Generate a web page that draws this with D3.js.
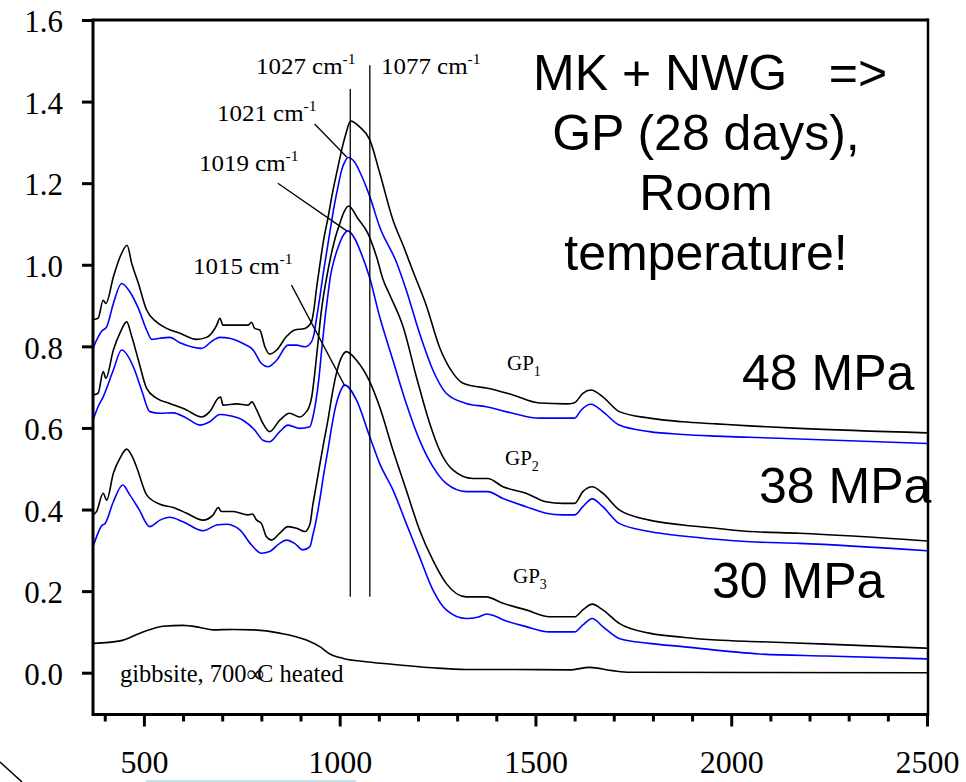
<!DOCTYPE html>
<html><head><meta charset="utf-8">
<script src="https://cdn.jsdelivr.net/npm/d3@7"></script>
<style>
html,body{margin:0;padding:0;background:#fff;}
svg{display:block;}
</style></head><body>
<svg id="chart" width="966" height="782"></svg>
<script>
// ---- Data: [wavenumber (cm-1), absorbance] ----
const gp1Black = [[370,.866],[383,.869],[396,.913],[403,.905],[422,.970],[439,1.019],[457,1.048],[469,1.003],[486,.954],[507,.889],[532,.860],[558,.844],[592,.832],[634,.817],[660,.822],[686,.852],[694,.869],[702,.852],[737,.852],[766,.852],[775,.859],[783,.844],[796,.840],[809,.799],[821,.781],[839,.791],[864,.824],[885,.840],[911,.844],[928,.860],[934,.889],[941,.943],[949,.997],[959,1.061],[970,1.114],[982,1.178],[995,1.237],[1005,1.281],[1015,1.318],[1028,1.352],[1051,1.338],[1077,1.306],[1102,1.226],[1135,1.113],[1166,1.038],[1186,.987],[1221,.901],[1255,.798],[1289,.735],[1314,.710],[1340,.703],[1374,.698],[1442,.681],[1510,.661],[1578,.659],[1600,.662],[1621,.685],[1642,.693],[1672,.676],[1714,.640],[1791,.624],[1876,.615],[1961,.610],[2046,.605],[2174,.599],[2500,.588]];
const gp1Blue = [[370,.795],[379,.815],[392,.837],[405,.848],[422,.905],[443,.954],[464,.934],[486,.893],[507,.840],[520,.817],[541,.820],[566,.822],[592,.809],[626,.798],[647,.795],[677,.815],[694,.822],[719,.820],[753,.807],[779,.791],[800,.758],[817,.750],[839,.766],[868,.803],[890,.803],[911,.799],[928,.811],[934,.828],[941,.869],[949,.918],[957,.972],[965,1.021],[975,1.080],[985,1.139],[995,1.188],[1005,1.232],[1013,1.252],[1021,1.263],[1038,1.252],[1055,1.220],[1077,1.167],[1102,1.093],[1145,1.006],[1170,.938],[1204,.832],[1238,.742],[1272,.685],[1323,.660],[1374,.652],[1442,.636],[1510,.624],[1578,.624],[1600,.624],[1617,.644],[1642,.658],[1672,.640],[1714,.607],[1791,.591],[1876,.584],[1961,.580],[2046,.577],[2174,.573],[2500,.562]];
const gp2Black = [[370,.681],[383,.685],[396,.738],[403,.722],[422,.791],[439,.833],[456,.860],[469,.824],[486,.766],[507,.697],[532,.673],[566,.660],[609,.644],[647,.627],[668,.640],[690,.673],[696,.676],[702,.656],[737,.659],[766,.656],[776,.664],[788,.644],[804,.611],[821,.591],[847,.619],[872,.636],[898,.627],[915,.640],[921,.649],[929,.678],[936,.731],[944,.803],[952,.877],[959,.926],[967,.970],[977,1.019],[987,1.060],[1000,1.100],[1010,1.127],[1023,1.144],[1046,1.114],[1072,1.077],[1094,1.020],[1111,.963],[1128,.926],[1162,.848],[1196,.725],[1230,.611],[1255,.546],[1289,.497],[1340,.476],[1378,.476],[1417,.456],[1476,.440],[1527,.419],[1570,.415],[1600,.415],[1621,.444],[1645,.456],[1672,.440],[1714,.399],[1791,.374],[1876,.362],[1961,.354],[2046,.346],[2174,.342],[2500,.323]];
const gp2Blue = [[370,.619],[383,.652],[396,.676],[422,.742],[443,.791],[473,.750],[494,.693],[515,.640],[541,.636],[575,.637],[609,.624],[643,.607],[668,.615],[694,.633],[719,.630],[753,.619],[783,.595],[804,.570],[821,.566],[847,.591],[868,.607],[898,.599],[924,.603],[931,.624],[939,.664],[947,.722],[954,.791],[962,.864],[970,.926],[977,.975],[987,1.016],[998,1.048],[1008,1.070],[1021,1.083],[1038,1.065],[1055,1.028],[1077,.967],[1102,.873],[1136,.766],[1170,.660],[1204,.570],[1238,.505],[1272,.464],[1323,.444],[1378,.444],[1417,.427],[1476,.407],[1527,.391],[1570,.387],[1600,.387],[1621,.407],[1645,.426],[1672,.407],[1714,.366],[1791,.346],[1876,.335],[1961,.327],[2046,.321],[2174,.317],[2500,.299]];
const gp3Black = [[370,.387],[379,.395],[396,.440],[405,.423],[422,.489],[439,.526],[456,.548],[469,.532],[481,.505],[507,.436],[541,.413],[575,.405],[609,.391],[651,.374],[677,.387],[690,.405],[698,.395],[728,.395],[766,.387],[777,.389],[788,.374],[800,.366],[813,.333],[826,.325],[847,.342],[868,.358],[890,.354],[911,.346],[924,.364],[931,.409],[939,.453],[949,.509],[959,.563],[970,.619],[980,.678],[990,.727],[1000,.762],[1008,.779],[1017,.787],[1043,.766],[1077,.713],[1102,.652],[1136,.546],[1170,.448],[1204,.350],[1238,.276],[1272,.219],[1323,.186],[1374,.186],[1417,.170],[1476,.154],[1536,.137],[1600,.137],[1621,.154],[1645,.168],[1672,.154],[1714,.121],[1791,.097],[1876,.087],[1961,.080],[2072,.076],[2242,.070],[2500,.060]];
const gp3Blue = [[370,.309],[379,.333],[392,.360],[401,.366],[422,.419],[446,.460],[464,.436],[486,.403],[515,.358],[541,.374],[566,.381],[600,.370],[651,.348],[686,.362],[711,.364],[745,.350],[775,.313],[800,.293],[821,.297],[847,.317],[864,.325],[885,.317],[906,.301],[924,.309],[931,.335],[939,.369],[949,.423],[959,.485],[970,.546],[980,.605],[990,.654],[1000,.686],[1013,.705],[1043,.668],[1077,.578],[1102,.513],[1136,.448],[1170,.366],[1204,.284],[1238,.203],[1272,.154],[1323,.133],[1352,.136],[1376,.144],[1396,.139],[1417,.130],[1476,.113],[1536,.100],[1600,.100],[1621,.117],[1645,.133],[1672,.113],[1714,.084],[1791,.072],[1876,.064],[2072,.046],[2242,.041],[2500,.034]];
const gibbsite = [[372,.072],[439,.078],[490,.097],[549,.114],[600,.116],[643,.111],[677,.105],[728,.106],[779,.105],[847,.097],[915,.080],[949,.064],[975,.046],[1009,.035],[1068,.027],[1153,.019],[1238,.012],[1323,.008],[1442,.008],[1587,.007],[1638,.013],[1697,.005],[1740,.001],[2500,.000]];

const xMajorTicks = [500, 1000, 1500, 2000, 2500];
const xMinorTicks = [400, 600, 700, 800, 900, 1100, 1200, 1300, 1400, 1600, 1700, 1800, 1900, 2100, 2200, 2300, 2400];
const yTicks = [0.0, 0.2, 0.4, 0.6, 0.8, 1.0, 1.2, 1.4, 1.6];

// reference lines [wavenumber, bottom, top]
const peakLines = [[1027, 0.186, 1.431], [1077, 0.186, 1.489]];
// leader lines [label, from wn, from A, to wn, to A]
const leaders = [["1021", 936, 1.345, 1018, 1.264], ["1019", 842, 1.200, 1018, 1.083], ["1015", 877, 0.950, 1013, 0.703]];

const series = [
  {data: gp1Black, color: "#000000"},
  {data: gp1Blue, color: "#0000ff"},
  {data: gp2Black, color: "#000000"},
  {data: gp2Blue, color: "#0000ff"},
  {data: gp3Black, color: "#000000"},
  {data: gp3Blue, color: "#0000ff"},
  {data: gibbsite, color: "#000000"}
];

const svg = d3.select("#chart");
const L = 93, R = 927, T = 20, B = 713.5;
const x = d3.scaleLinear().domain([370, 2500]).range([L, R]);
const y = d3.scaleLinear().domain([-0.1, 1.6]).range([B, T]);
const serif = "'Liberation Serif','Times New Roman',serif";
const sans = "'Liberation Sans',Arial,sans-serif";

// decorations outside the plot
svg.append("line").attr("x1", 0).attr("y1", 762).attr("x2", 22).attr("y2", 782).attr("stroke", "#000").attr("stroke-width", 1.5);
svg.append("rect").attr("x", 146).attr("y", 780).attr("width", 210).attr("height", 2).attr("fill", "#c5e2e6");

// curves
const line = d3.line().x(d => x(d[0])).y(d => y(d[1])).curve(d3.curveMonotoneX);
svg.append("g").selectAll("path").data(series).join("path")
  .attr("d", d => line(d.data)).attr("fill", "none")
  .attr("stroke", d => d.color).attr("stroke-width", 1.6).attr("stroke-linejoin", "round");

// reference lines
svg.append("g").selectAll("line").data(peakLines).join("line")
  .attr("x1", d => x(d[0])).attr("x2", d => x(d[0]))
  .attr("y1", d => y(d[1])).attr("y2", d => y(d[2]))
  .attr("stroke", "#000").attr("stroke-width", 1.3);
svg.append("g").selectAll("line").data(leaders).join("line")
  .attr("x1", d => x(d[1])).attr("y1", d => y(d[2]))
  .attr("x2", d => x(d[3])).attr("y2", d => y(d[4]))
  .attr("stroke", "#000").attr("stroke-width", 1.3);

// frame
const frame = svg.append("g").attr("stroke", "#000").attr("fill", "none");
frame.append("line").attr("x1", L).attr("x2", R + 1).attr("y1", T).attr("y2", T).attr("stroke-width", 3);
frame.append("line").attr("x1", L).attr("x2", R + 1).attr("y1", B + 1).attr("y2", B + 1).attr("stroke-width", 3);
frame.append("line").attr("x1", L).attr("x2", L).attr("y1", T - 1.5).attr("y2", B + 2.5).attr("stroke-width", 3);
frame.append("line").attr("x1", R + 1).attr("x2", R + 1).attr("y1", T - 1.5).attr("y2", B + 2.5).attr("stroke-width", 2.5);

// axes
const yAxis = svg.append("g").attr("transform", `translate(${L},0)`)
  .call(d3.axisLeft(y).tickValues(yTicks).tickFormat(d3.format(".1f")).tickSize(11).tickSizeOuter(0).tickPadding(19));
yAxis.select(".domain").remove();
yAxis.selectAll(".tick line").attr("stroke-width", 3);
yAxis.selectAll(".tick text").attr("font-family", serif).attr("font-size", 31).attr("fill", "#000").attr("dy", "0.38em");

const xAxis = svg.append("g").attr("transform", `translate(0,${B + 1})`)
  .call(d3.axisBottom(x).tickValues(xMajorTicks).tickFormat(d3.format("d")).tickSize(12).tickSizeOuter(0).tickPadding(24));
xAxis.select(".domain").remove();
xAxis.selectAll(".tick line").attr("stroke-width", 3);
xAxis.selectAll(".tick text").attr("font-family", serif).attr("font-size", 32).attr("fill", "#000").attr("dy", "0.71em");
const xMinor = svg.append("g").attr("transform", `translate(0,${B + 1})`)
  .call(d3.axisBottom(x).tickValues(xMinorTicks).tickFormat("").tickSize(7).tickSizeOuter(0));
xMinor.select(".domain").remove();
xMinor.selectAll(".tick line").attr("stroke-width", 3);

// wavenumber labels with superscript
function cmLabel(px, py, num) {
  const g = svg.append("g").attr("transform", `translate(${px},${py}) scale(1.04,1)`);
  const t = g.append("text").attr("font-family", serif).attr("font-size", 24).attr("fill", "#000");
  t.append("tspan").text(num + " cm");
  t.append("tspan").attr("font-size", 15).attr("dy", -10).text("-1");
}
cmLabel(256, 74, "1027");
cmLabel(381, 74, "1077");
cmLabel(217, 121, "1021");
cmLabel(199, 171, "1019");
cmLabel(193, 274, "1015");

function gpLabel(px, py, sub) {
  const t = svg.append("text").attr("x", px).attr("y", py).attr("font-family", serif).attr("font-size", 21).attr("fill", "#000");
  t.append("tspan").text("GP");
  t.append("tspan").attr("font-size", 14).attr("dy", 6).text(sub);
}
gpLabel(507, 370, "1");
gpLabel(505, 465, "2");
gpLabel(513, 583, "3");

const gt = svg.append("text").attr("x", 120).attr("y", 682).attr("font-family", serif).attr("font-size", 24.5).attr("fill", "#000");
gt.append("tspan").text("gibbsite, 700\u221E");
gt.append("tspan").attr("dx", -7).text("C heated");

// big title text
svg.append("text").attr("x", 533).attr("y", 90).attr("font-family", sans).attr("font-size", 50)
  .attr("fill", "#000").style("white-space", "pre").text("MK + NWG   =>");
[["GP (28 days),", 150], ["Room", 210], ["temperature!", 270]].forEach(([s, by]) => {
  svg.append("text").attr("x", 706).attr("y", by).attr("text-anchor", "middle").attr("font-family", sans)
    .attr("font-size", 50).attr("fill", "#000").text(s);
});
[["48 MPa", 742, 390], ["38 MPa", 759, 503], ["30 MPa", 712, 598]].forEach(([s, px, py]) => {
  svg.append("text").attr("x", px).attr("y", py).attr("font-family", sans).attr("font-size", 50).attr("fill", "#000").text(s);
});
</script>
</body></html>
